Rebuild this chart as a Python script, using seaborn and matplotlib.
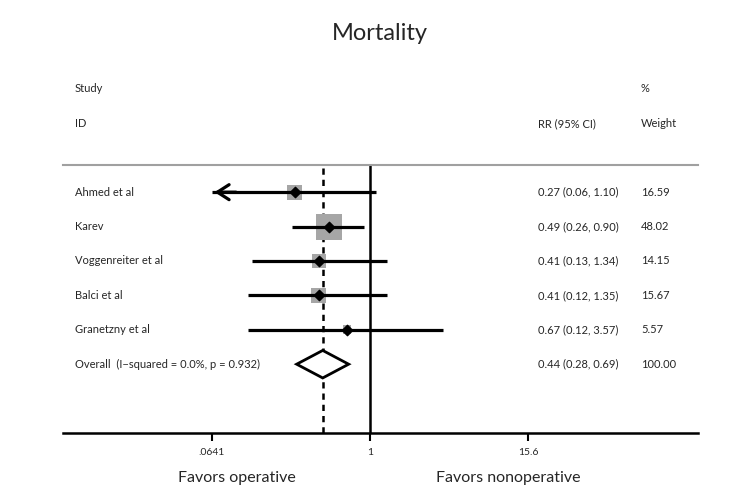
import numpy as np
import pandas as pd
import matplotlib
matplotlib.use("Agg")
import matplotlib.pyplot as plt
from matplotlib.patches import Polygon
import seaborn as sns

# forest plot data
studies = ["Ahmed et al", "Karev", "Voggenreiter et al", "Balci et al", "Granetzny et al"]
rr = [0.27, 0.49, 0.41, 0.41, 0.67]
ci_lo = [0.06, 0.26, 0.13, 0.12, 0.12]
ci_hi = [1.10, 0.90, 1.34, 1.35, 3.57]
weights = [16.59, 48.02, 14.15, 15.67, 5.57]
rr_text = ["0.27 (0.06, 1.10)", "0.49 (0.26, 0.90)", "0.41 (0.13, 1.34)",
           "0.41 (0.12, 1.35)", "0.67 (0.12, 3.57)"]
overall_label = "Overall  (I\u2212squared = 0.0%, p = 0.932)"
overall_rr, overall_lo, overall_hi = 0.44, 0.28, 0.69
overall_text = "0.44 (0.28, 0.69)"
overall_weight = "100.00"
tick_vals = [0.0641, 1, 15.6]
tick_labels = [".0641", "1", "15.6"]

sns.set_theme(style="white")
plt.rcParams['font.family'] = ['Lato', 'DejaVu Sans']

df = pd.DataFrame({"study": studies, "rr": rr, "lo": ci_lo, "hi": ci_hi,
                   "w": weights, "row": np.arange(len(studies))})

fig = plt.figure(figsize=(7.5, 5.03), dpi=100)
ax = fig.add_axes([63.5 / 750, 1 - 433 / 503, 634.5 / 750, 268 / 503])
ax.set_xscale("log")
ax.set_xlim(0.0049, 296)
ax.set_ylim(7, -0.79)

clip_min = tick_vals[0]

# grey weight boxes
sns.scatterplot(data=df, x="rr", y="row", size="w", sizes=(0, 350), size_norm=(0, 48.02),
                marker="s", color="#a6a6a6", linewidth=0, legend=False, ax=ax, zorder=2)

# CI lines
for i, r in df.iterrows():
    lo = max(r["lo"], clip_min)
    ax.plot([lo, r["hi"]], [r["row"], r["row"]], color="black", lw=2.3, zorder=3,
            solid_capstyle="butt")
    if r["lo"] < clip_min:
        ax.annotate("", xy=(clip_min, r["row"]), xytext=(clip_min * 1.6, r["row"]),
                    arrowprops=dict(arrowstyle="->,head_length=0.7,head_width=0.45",
                                    color="black", lw=2.3), zorder=3)

ax.scatter(df["rr"], df["row"], marker="D", s=28, color="black", zorder=4)

# reference lines
ax.axvline(1, color="black", lw=1.8, zorder=1)
ax.axvline(overall_rr, color="black", lw=1.8, ls=(0, (2.5, 2)), zorder=1)

# overall diamond
orow = len(studies)
diamond = Polygon([(overall_lo, orow), (overall_rr, orow - 0.4), (overall_hi, orow),
                   (overall_rr, orow + 0.4)], closed=True, facecolor="white",
                  edgecolor="black", lw=2, zorder=5)
ax.add_patch(diamond)

# spines
for s in ["left", "right"]:
    ax.spines[s].set_visible(False)
ax.spines["top"].set_color("#a0a0a0")
ax.spines["top"].set_linewidth(1.5)
ax.spines["bottom"].set_color("black")
ax.spines["bottom"].set_linewidth(1.8)

ax.set_yticks([])
ax.set_xticks(tick_vals)
ax.set_xticklabels(tick_labels)
ax.xaxis.set_minor_locator(matplotlib.ticker.NullLocator())
ax.tick_params(axis="x", direction="out", length=6, width=1.5, color="black",
               labelsize=7.5, pad=5, bottom=True)
ax.set_xlabel("")
ax.set_ylabel("")

# text columns
tr = ax.get_yaxis_transform()
fs = 8
ax.text(0.018, -3, "Study", transform=tr, fontsize=fs, va="center", clip_on=False)
ax.text(0.018, -2, "ID", transform=tr, fontsize=fs, va="center", clip_on=False)
ax.text(0.748, -2, "RR (95% CI)", transform=tr, fontsize=fs, va="center", clip_on=False)
ax.text(0.91, -3, "%", transform=tr, fontsize=fs, va="center", clip_on=False)
ax.text(0.91, -2, "Weight", transform=tr, fontsize=fs, va="center", clip_on=False)
for i in range(len(studies)):
    ax.text(0.018, i, studies[i], transform=tr, fontsize=fs, va="center")
    ax.text(0.748, i, rr_text[i], transform=tr, fontsize=fs, va="center")
    ax.text(0.91, i, f"{weights[i]:.2f}", transform=tr, fontsize=fs, va="center")
ax.text(0.018, orow, overall_label, transform=tr, fontsize=fs, va="center")
ax.text(0.748, orow, overall_text, transform=tr, fontsize=fs, va="center")
ax.text(0.91, orow, overall_weight, transform=tr, fontsize=fs, va="center")

xt = ax.get_xaxis_transform()
ax.text(0.099, -0.168, "Favors operative", transform=xt, fontsize=11.5,
        ha="center", va="center", clip_on=False)
ax.text(11.0, -0.168, "Favors nonoperative", transform=xt, fontsize=11.5,
        ha="center", va="center", clip_on=False)

fig.text(0.507, 1 - 33 / 503, "Mortality", fontsize=17, ha="center", va="center")

fig.savefig("out.png", dpi=100)
